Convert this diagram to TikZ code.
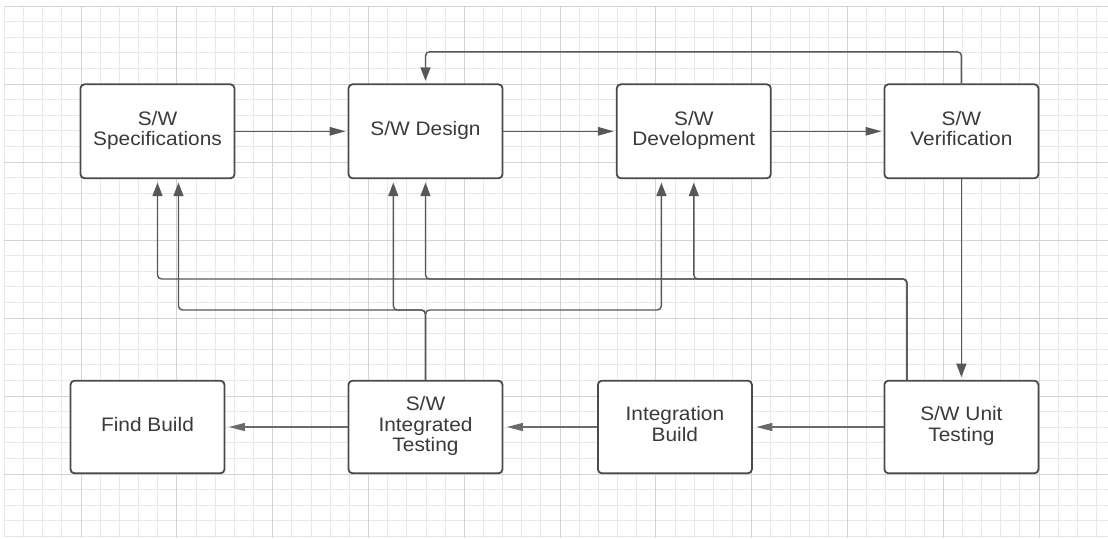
\documentclass[tikz,border=0pt]{standalone}
\usepackage{fontspec}
\setmainfont{Liberation Sans}[FakeStretch=1.07]
\usetikzlibrary{arrows.meta,calc}
\definecolor{boxc}{HTML}{4A4A4A}
\definecolor{txtc}{HTML}{3A3A3A}
\definecolor{linec}{HTML}{585858}
\definecolor{linelt}{HTML}{6A6A6A}
\definecolor{gridmin}{HTML}{E8E8E8}
\definecolor{gridmaj}{HTML}{D3D3D3}
\tikzset{
  stagebox/.style={draw=boxc, line width=1.8pt, rounded corners=4pt, fill=white,
    minimum width=154pt, minimum height=94pt, align=center, text=txtc, inner sep=0pt,
    font=\fontsize{19.5}{20.5}\selectfont},
  lowbox/.style={stagebox, minimum height=92.6pt},
  flowh/.style={draw=linec, line width=1.4pt, -{Triangle[length=16pt,width=8.5pt]}, shorten >=2pt},
  flowv/.style={draw=linec, line width=1.4pt, -{Triangle[length=13.5pt,width=10pt]}, shorten >=2.6pt},
  flowlow/.style={draw=linelt, line width=1.1pt, -{Triangle[length=16pt,width=8pt]}, shorten >=3.5pt},
  fback/.style={draw=linec, line width=1.4pt, rounded corners=4pt, -{Triangle[length=13.5pt,width=10pt]}, shorten >=3.4pt},
  gminor/.style={draw=gridmin, line width=0.8pt},
  gmajor/.style={draw=gridmaj, line width=1pt}
}
\begin{document}
\begin{tikzpicture}[x=1pt,y=-1pt]
\useasboundingbox (0,0) rectangle (1108,538);
\fill[white] (0,0) rectangle (1108,538);
% grid
\foreach \k in {0,...,57} \draw[gminor] ({4.4+19.16*\k},6) -- ({4.4+19.16*\k},538);
\foreach \k in {0,...,34} \draw[gminor] (4.4,{6+15.6*\k}) -- (1108,{6+15.6*\k});
\foreach \k in {4,9,...,54} \draw[gmajor] ({4.4+19.16*\k},6) -- ({4.4+19.16*\k},538);
\foreach \k in {0,5,...,30} \draw[gmajor] (4.4,{6+15.6*\k}) -- (1108,{6+15.6*\k});

% nodes
\node[stagebox] (spec)   at (157.5,131.3) {\strut S/W\\\strut Specifications};
\node[stagebox] (design) at (425.5,131.3) {\strut S/W Design};
\node[stagebox] (dev)    at (693.8,131.3) {\strut S/W\\\strut Development};
\node[stagebox] (verif)  at (961.4,131.3) {\strut S/W\\\strut Verification};
\node[lowbox] (find)     at (147.5,427) {\strut Find Build};
\node[lowbox] (inttest)  at (425.5,427) {\strut S/W\\\strut Integrated\\\strut Testing};
\node[lowbox] (intbuild) at (674.9,427) {\strut Integration\\\strut Build};
\node[lowbox] (unit)     at (961.4,427) {\strut S/W Unit\\\strut Testing};

% forward flow
\draw[flowh] (spec) -- (design);
\draw[flowh] (design) -- (dev);
\draw[flowh] (dev) -- (verif);
\draw[flowv, rounded corners=4pt] (verif.north) -- ++(0,-31.6) -| (design.north);
\draw[flowv] (verif.south) -- (unit.north);
\draw[flowlow] (unit) -- (intbuild);
\draw[flowlow] (intbuild) -- (inttest);
\draw[flowlow] (inttest) -- (find);

% feedback from unit testing
\coordinate (ua) at (907,279);
\draw[fback] (unit.north -| ua) -- (ua) -| (spec.south);
\draw[fback] (unit.north -| ua) -- (ua) -| (design.south);
\draw[fback] (unit.north -| ua) -- (ua) -| (dev.south);

% feedback from integrated testing
\coordinate (ib) at (425.5,310);
\draw[fback] (inttest.north) -- (ib) -| ($(spec.south)+(21,0)$);
\draw[fback] (inttest.north) -- (ib) -| ($(design.south)+(-32.2,0)$);
\draw[fback] (inttest.north) -- (ib) -| ($(dev.south)+(-32.4,0)$);
\end{tikzpicture}
\end{document}
